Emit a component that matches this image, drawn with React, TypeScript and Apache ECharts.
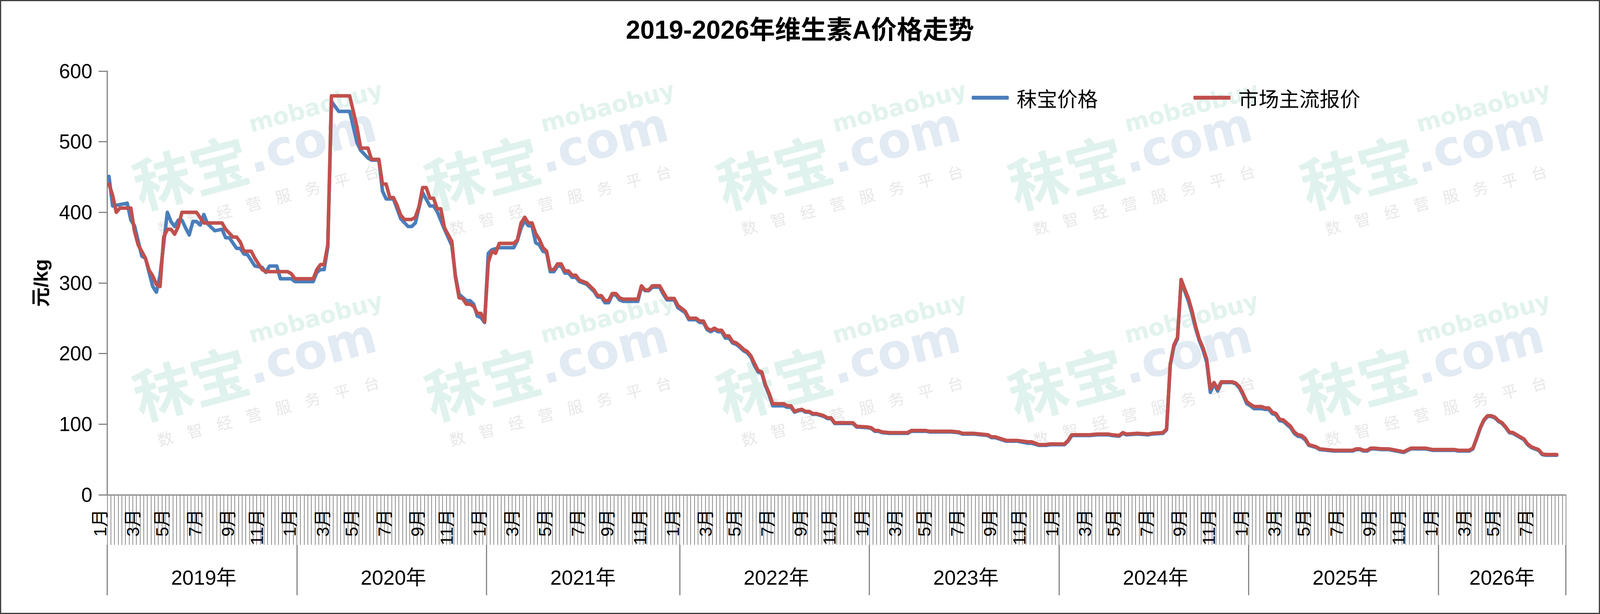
import React, { useEffect, useRef } from 'react';
import * as echarts from 'echarts';

const chartTitle = '2019-2026年维生素A价格走势';
const seriesNames = ['秣宝价格', '市场主流报价'];
const yearNames = ['2019年', '2020年', '2021年', '2022年', '2023年', '2024年', '2025年', '2026年'];
const weeksPerYear = [52, 52, 53, 52, 52, 52, 52, 35];
const yMin = 0;
const yMax = 600;
const yStep = 100;

// [week index, price 元/kg]
const mobaoPoints: [number, number][] = [
  [0,451],[1,409],[5,413],[6,389],[7,381],[9,338],[10,335],[12,295],[13,287],[14,311],[16,400],[17,387],[18,380],[19,389],[20,389],[21,378],[22,368],[23,387],[24,387],[25,382],[26,397],[27,384],[29,374],[31,376],[32,364],[33,364],[35,349],[36,349],[37,341],[38,340],[40,324],[41,323],[42,322],[43,315],[44,324],[46,324],[47,306],[50,306],[51,302],[56,302],[57,315],[58,319],[59,319],[60,351],[61,557],[62,550],[63,543],[66,543],[67,521],[68,499],[69,488],[71,477],[72,474],[74,474],[75,430],[76,419],[78,419],[80,391],[82,380],[83,380],[84,385],[86,428],[88,409],[89,409],[90,401],[92,376],[94,353],[95,310],[96,284],[98,275],[99,275],[100,270],[101,253],[102,251],[103,244],[104,342],[105,347],[107,350],[111,350],[112,360],[113,378],[114,388],[115,381],[116,381],[117,357],[118,354],[119,345],[120,343],[121,316],[122,316],[123,324],[124,324],[125,314],[126,314],[127,308],[128,308],[129,302],[131,298],[133,288],[134,280],[135,280],[136,272],[137,272],[138,283],[139,283],[140,276],[141,274],[145,274],[146,294],[147,289],[148,289],[149,294],[151,294],[152,284],[153,276],[155,276],[156,265],[158,258],[159,248],[161,248],[162,244],[163,244],[164,234],[165,231],[166,234],[167,231],[168,231],[169,222],[170,222],[171,215],[172,213],[173,209],[174,204],[175,201],[176,195],[177,183],[178,174],[179,172],[180,154],[181,142],[182,126],[185,126],[186,124],[187,124],[188,117],[189,119],[190,120],[191,117],[192,117],[193,114],[194,114],[196,111],[197,108],[198,108],[199,101],[204,101],[205,96],[208,95],[209,94],[210,90],[211,90],[212,88],[214,87],[219,87],[220,90],[224,90],[225,89],[231,89],[233,88],[234,86],[237,86],[241,84],[242,81],[243,81],[246,76],[249,76],[252,73],[253,73],[255,70],[257,70],[258,71],[262,71],[263,76],[264,84],[269,84],[271,85],[274,85],[275,84],[277,83],[278,87],[279,85],[282,86],[285,85],[286,86],[289,87],[290,92],[291,183],[292,210],[293,221],[294,303],[295,288],[296,274],[297,256],[298,235],[299,218],[300,205],[301,188],[302,145],[303,157],[304,147],[305,159],[308,159],[309,157],[310,151],[311,141],[312,129],[313,126],[314,122],[316,122],[317,121],[318,121],[319,115],[320,113],[321,105],[322,104],[324,95],[325,87],[326,83],[327,82],[328,78],[329,70],[331,67],[332,64],[334,63],[336,62],[341,62],[342,64],[343,64],[344,62],[345,62],[346,65],[347,65],[349,64],[351,64],[353,62],[355,60],[357,65],[361,65],[363,63],[369,63],[370,62],[373,62],[374,65],[375,79],[376,94],[377,105],[378,111],[379,111],[380,109],[381,104],[382,101],[383,95],[384,88],[385,87],[386,84],[388,78],[389,71],[390,67],[392,63],[393,57],[394,56],[397,56]
];

const marketPoints: [number, number][] = [
  [0,440],[1,424],[2,400],[3,406],[6,406],[7,373],[8,354],[10,335],[11,318],[12,310],[13,298],[14,295],[15,365],[16,376],[17,376],[18,369],[19,380],[20,400],[24,400],[26,385],[31,385],[32,376],[34,365],[35,365],[36,358],[37,345],[39,345],[40,335],[41,327],[42,319],[43,316],[49,316],[50,313],[51,306],[56,306],[57,319],[58,326],[59,326],[60,354],[61,565],[66,565],[68,521],[69,491],[71,491],[72,475],[74,475],[75,440],[76,440],[77,421],[78,421],[79,410],[80,396],[81,390],[83,390],[84,393],[85,408],[86,435],[87,435],[88,420],[89,420],[90,405],[91,405],[92,378],[94,359],[95,308],[96,279],[97,278],[98,270],[99,270],[100,267],[101,257],[102,257],[103,245],[104,329],[105,345],[106,342],[107,356],[111,356],[112,361],[113,385],[114,393],[115,385],[116,385],[117,370],[118,362],[119,350],[120,345],[121,319],[122,319],[123,327],[124,327],[125,317],[126,317],[127,311],[128,311],[129,304],[131,300],[133,290],[134,282],[135,282],[136,275],[137,275],[138,285],[139,285],[140,279],[141,277],[145,277],[146,296],[147,290],[148,290],[149,296],[151,296],[152,287],[153,278],[155,278],[156,268],[158,260],[159,250],[161,250],[162,246],[163,246],[164,236],[165,233],[166,236],[167,233],[168,233],[169,225],[170,225],[171,217],[172,215],[173,211],[174,206],[175,203],[176,197],[177,186],[178,176],[179,174],[180,156],[181,144],[182,129],[185,129],[186,126],[187,126],[188,118],[189,120],[190,121],[191,118],[192,118],[193,115],[194,115],[196,112],[197,109],[198,109],[199,102],[204,102],[205,97],[208,96],[209,95],[210,91],[211,91],[212,89],[214,88],[219,88],[220,91],[224,91],[225,90],[231,90],[233,89],[234,87],[237,87],[241,85],[242,82],[243,82],[246,77],[249,77],[252,75],[253,75],[255,71],[257,71],[258,72],[262,72],[263,77],[264,85],[269,85],[271,86],[274,86],[275,85],[277,84],[278,88],[279,86],[282,87],[285,86],[286,87],[289,88],[290,93],[291,185],[292,212],[293,223],[294,305],[295,291],[296,278],[297,260],[298,238],[299,220],[300,208],[301,192],[302,150],[303,159],[304,150],[305,160],[308,160],[309,158],[310,153],[311,143],[312,132],[313,128],[314,125],[316,125],[317,123],[318,123],[319,117],[320,115],[321,107],[322,106],[324,97],[325,89],[326,85],[327,84],[328,80],[329,71],[331,68],[332,65],[334,64],[336,63],[341,63],[342,65],[343,65],[344,63],[345,63],[346,66],[347,66],[349,65],[351,65],[353,63],[355,61],[357,66],[361,66],[363,64],[369,64],[370,63],[373,63],[374,66],[375,80],[376,95],[377,106],[378,112],[379,112],[380,110],[381,105],[382,102],[383,96],[384,89],[385,88],[386,85],[388,79],[389,72],[390,68],[392,64],[393,58],[394,57],[397,57]
];

const FONT = "'Liberation Sans', Arial, 'Noto Sans CJK SC', sans-serif";
const CJK = "'Noto Sans CJK SC', 'Liberation Sans', sans-serif";

// build category axis
const categories: string[] = [];
const yearStarts = new Set<number>();
const monthLabel: Record<string, string> = {};
const yearLabel: Record<string, string> = {};
(() => {
  let idx = 0;
  yearNames.forEach((yn, yi) => {
    const n = weeksPerYear[yi];
    const nominal = n < 52 ? 52 : n;
    yearStarts.add(idx);
    for (let k = 0; k < n; k++) categories.push(`${yn}第${k + 1}周`);
    for (let m = 1; m <= 12; m += 2) {
      const w = Math.round(((m - 1) * nominal) / 12);
      if (w < n) monthLabel[categories[idx + w]] = `${m}月`;
    }
    yearLabel[categories[idx + Math.floor(n / 2)]] = yn;
    idx += n;
  });
})();

const wmCols = [377, 1156, 1935, 2714, 3493];
const wmRows = [545, 1085];
const wmSmall = ['数', '智', '经', '营', '服', '务', '平', '台'];

function watermark(x: number, y: number) {
  const children: any[] = [
    { type: 'text', style: { text: '秣宝', x: 0, y: 0, fontSize: 150, fontWeight: 'bold', fontFamily: CJK, fill: '#e0f2ed', align: 'left', verticalAlign: 'bottom' } },
    { type: 'text', style: { text: '.com', x: 300, y: -6, fontSize: 125, fontWeight: 'bold', fontFamily: "'DejaVu Sans', sans-serif", fill: '#e2eaf3', align: 'left', verticalAlign: 'bottom' } },
    { type: 'text', style: { text: 'mobaobuy', x: 325, y: -118, fontSize: 60, fontWeight: 'bold', fontFamily: "'DejaVu Sans', sans-serif", fill: '#e2f3ee', align: 'left', verticalAlign: 'bottom' } },
  ];
  wmSmall.forEach((c, k) => {
    children.push({ type: 'text', style: { text: c, x: 30 + k * 78, y: 70, fontSize: 40, fontFamily: CJK, fill: '#e8e8e8', align: 'left', verticalAlign: 'bottom' } });
  });
  return { type: 'group', x, y, rotation: 0.26, silent: true, z: -10, children };
}

export default function App() {
  const ref = useRef<HTMLDivElement>(null);
  useEffect(() => {
    const el = ref.current;
    if (!el) return;
    const W = el.clientWidth || 4270;
    const H = el.clientHeight || 1571;
    const sx = W / 4270;
    const sy = H / 1571;
    const chart = echarts.init(el, null, { renderer: 'svg' });
    const graphics: any[] = [];
    wmRows.forEach((ry) => wmCols.forEach((cx) => graphics.push(watermark(cx * sx, ry * sy))));
    graphics.push({
      type: 'rect', silent: true, z: 100,
      shape: { x: 1.5, y: 1.5, width: W - 3, height: H - 3 },
      style: { fill: 'none', stroke: '#404040', lineWidth: 3 },
    });
    chart.setOption({
      animation: false,
      backgroundColor: '#ffffff',
      title: {
        text: chartTitle, left: 'center', top: 38 * sy,
        textStyle: { fontSize: 66, fontWeight: 'bold', color: '#000', fontFamily: FONT },
      },
      legend: {
        data: seriesNames, left: 2588 * sx, top: 215 * sy, itemWidth: 95, itemHeight: 10, itemGap: 255 * sx,
        icon: 'roundRect',
        textStyle: { fontSize: 52, color: '#000', fontFamily: CJK, padding: [0, 0, 0, 15], lineHeight: 60 },
      },
      grid: { left: 286 * sx, top: 182 * sy, right: 91 * sx, bottom: 305 * sy, containLabel: false },
      xAxis: [
        {
          type: 'category', data: categories, boundaryGap: true,
          axisLine: { show: true, lineStyle: { color: '#868686', width: 3 } },
          axisTick: { show: true, interval: 0, length: 128 * sy, lineStyle: { color: '#8e8e8e', width: 2 } },
          axisLabel: {
            interval: (_i: number, v: string) => !!monthLabel[v],
            formatter: (v: string) => monthLabel[v] || '',
            rotate: 90, fontSize: 45, margin: 37 * sy, color: '#000', fontFamily: FONT,
            verticalAlign: 'bottom',
          },
          splitLine: { show: false },
        },
        {
          type: 'category', data: categories, boundaryGap: true, position: 'bottom', offset: 128 * sy,
          axisLine: { show: false },
          axisTick: { show: true, interval: (i: number) => yearStarts.has(i), length: 129 * sy, lineStyle: { color: '#868686', width: 3 } },
          axisLabel: {
            interval: (_i: number, v: string) => !!yearLabel[v],
            formatter: (v: string) => yearLabel[v] || '',
            fontSize: 52, margin: 58 * sy, color: '#000', fontFamily: FONT,
          },
          splitLine: { show: false },
        },
      ],
      yAxis: {
        type: 'value', min: yMin, max: yMax, interval: yStep,
        name: '元/kg', nameLocation: 'middle', nameGap: 150 * sx, nameRotate: 90,
        nameTextStyle: { fontSize: 50, fontWeight: 'bold', color: '#000', fontFamily: FONT },
        axisLine: { show: true, lineStyle: { color: '#868686', width: 3 } },
        axisTick: { show: true, length: 22, lineStyle: { color: '#868686', width: 3 } },
        axisLabel: { fontSize: 51, color: '#000', margin: 38, fontFamily: FONT },
        splitLine: { show: false },
      },
      series: [
        {
          name: seriesNames[0], type: 'line', xAxisIndex: 0, data: mobaoPoints, symbol: 'none', z: 3,
          lineStyle: { width: 9, color: '#4a7ebb', cap: 'round', join: 'round' },
          itemStyle: { color: '#4a7ebb' },
        },
        {
          name: seriesNames[1], type: 'line', xAxisIndex: 0, data: marketPoints, symbol: 'none', z: 4,
          lineStyle: { width: 9, color: '#c0504d', cap: 'round', join: 'round' },
          itemStyle: { color: '#c0504d' },
        },
      ],
      graphic: graphics,
    });
    return () => chart.dispose();
  }, []);
  return (
    <div
      ref={ref}
      style={{ position: 'fixed', left: 0, top: 0, width: '100vw', height: '100vh', background: '#fff' }}
    />
  );
}
